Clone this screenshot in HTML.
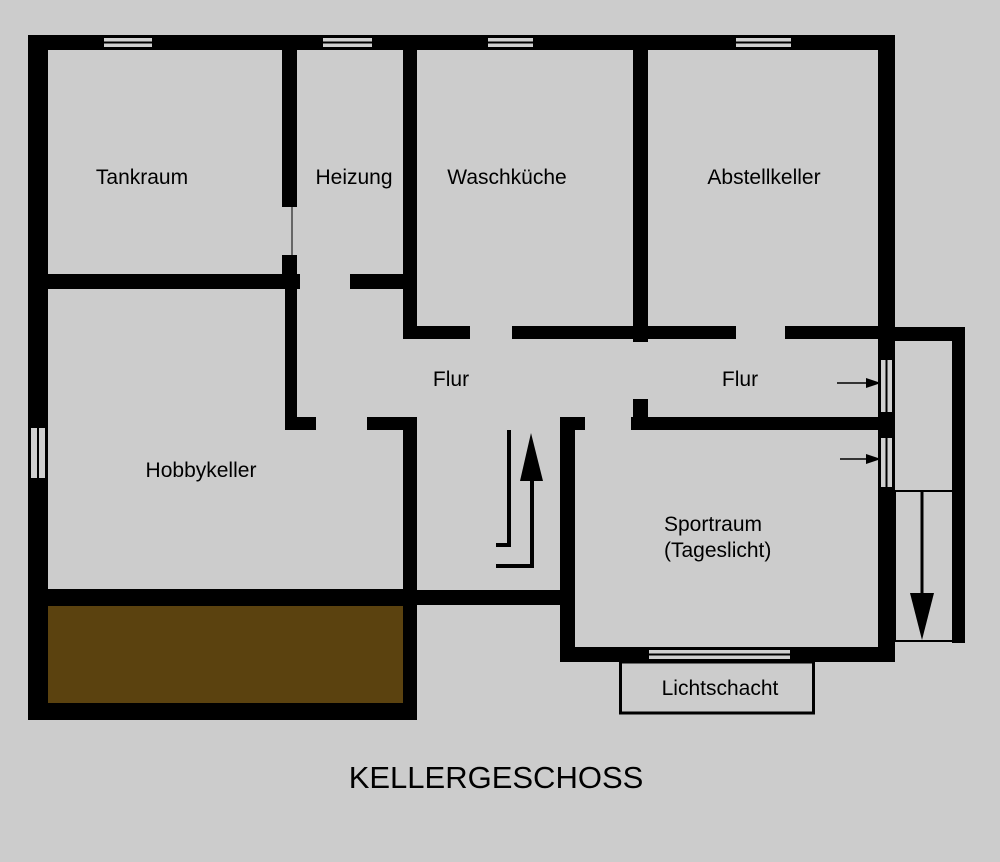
<!DOCTYPE html>
<html><head><meta charset="utf-8"><style>
html,body{margin:0;padding:0;background:#cccccc;}
svg{display:block;}
text{font-family:"Liberation Sans",Arial,sans-serif;fill:#000;}
</style></head><body>
<svg width="1000" height="862" viewBox="0 0 1000 862" xmlns="http://www.w3.org/2000/svg">
<rect width="1000" height="862" fill="#cccccc"/>
<rect x="48" y="606" width="356" height="97" fill="#5b420f"/>
<g fill="#000">
<rect x="28" y="35" width="867" height="15"/>
<rect x="28" y="35" width="20" height="685"/>
<rect x="878" y="35" width="17" height="627"/>
<rect x="282" y="50" width="15" height="157"/>
<rect x="282" y="255" width="15" height="20"/>
<rect x="48" y="274" width="252" height="15"/>
<rect x="285" y="289" width="12" height="141"/>
<rect x="285" y="417" width="31" height="13"/>
<rect x="350" y="274" width="54" height="15"/>
<rect x="403" y="50" width="14" height="289"/>
<rect x="403" y="326" width="67" height="13"/>
<rect x="512" y="326" width="224" height="13"/>
<rect x="633" y="50" width="15" height="292"/>
<rect x="785" y="326" width="110" height="13"/>
<rect x="367" y="417" width="50" height="13"/>
<rect x="403" y="417" width="14" height="303"/>
<rect x="28" y="589" width="389" height="17"/>
<rect x="28" y="703" width="389" height="17"/>
<rect x="417" y="590" width="150" height="15"/>
<rect x="631" y="417" width="250" height="13"/>
<rect x="633" y="399" width="15" height="20"/>
<rect x="560" y="417" width="15" height="245"/>
<rect x="560" y="417" width="25" height="13"/>
<rect x="560" y="647" width="335" height="15"/>
<rect x="895" y="327" width="70" height="14"/>
<rect x="952" y="327" width="13" height="316"/>
</g>
<line x1="292" y1="207" x2="292" y2="255" stroke="#000" stroke-width="1"/>
<g fill="#d0d0d0">
<rect x="104" y="38" width="48" height="9"/>
<rect x="323" y="38" width="49" height="9"/>
<rect x="488" y="38" width="45" height="9"/>
<rect x="736" y="38" width="55" height="9"/>
<rect x="31" y="428" width="14" height="50"/>
<rect x="881" y="360" width="11" height="52"/>
<rect x="881" y="438" width="11" height="49"/>
<rect x="649" y="650" width="141" height="9"/>
</g>
<g fill="#000">
<rect x="104" y="41.5" width="48" height="2"/>
<rect x="323" y="41.5" width="49" height="2"/>
<rect x="488" y="41.5" width="45" height="2"/>
<rect x="736" y="41.5" width="55" height="2"/>
<rect x="37" y="428" width="2" height="50"/>
<rect x="885.5" y="360" width="2" height="52"/>
<rect x="885.5" y="438" width="2" height="49"/>
<rect x="649" y="653.5" width="141" height="2"/>
</g>
<g stroke="#000" stroke-width="2" fill="none">
<line x1="895" y1="491" x2="952" y2="491"/>
<line x1="895" y1="641" x2="952" y2="641"/>
<line x1="895" y1="491" x2="895" y2="641"/>
</g>
<line x1="922" y1="491" x2="922" y2="596" stroke="#000" stroke-width="3"/>
<polygon points="910,593 934,593 922,640" fill="#000"/>
<line x1="837" y1="383" x2="868" y2="383" stroke="#000" stroke-width="1.5"/>
<polygon points="866,378 881,383 866,388" fill="#000"/>
<line x1="840" y1="459" x2="868" y2="459" stroke="#000" stroke-width="1.5"/>
<polygon points="866,454 881,459 866,464" fill="#000"/>
<g stroke="#000" stroke-width="4" fill="none">
<polyline points="509,430 509,545 496,545"/>
<polyline points="532,478 532,566 496,566"/>
</g>
<polygon points="531,433 520,481 543,481" fill="#000"/>
<rect x="620.5" y="662" width="193" height="51" fill="none" stroke="#000" stroke-width="3"/>
<g font-size="21" text-anchor="middle">
<text x="142" y="184">Tankraum</text>
<text x="354" y="184">Heizung</text>
<text x="507" y="184">Waschküche</text>
<text x="764" y="184">Abstellkeller</text>
<text x="451" y="386">Flur</text>
<text x="740" y="386">Flur</text>
<text x="201" y="477">Hobbykeller</text>
<text x="720" y="695">Lichtschacht</text>
</g>
<g font-size="21">
<text x="664" y="531">Sportraum</text>
<text x="664" y="557">(Tageslicht)</text>
</g>
<text x="496" y="788" font-size="31" text-anchor="middle">KELLERGESCHOSS</text>
</svg>
</body></html>
